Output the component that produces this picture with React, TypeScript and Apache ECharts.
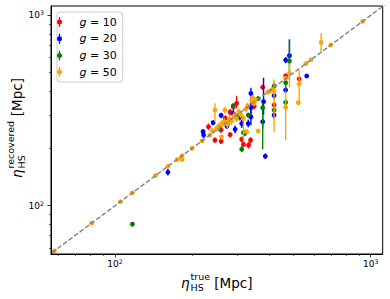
import React, { useEffect, useRef } from 'react';
import * as echarts from 'echarts';

// ---------- data ----------
const seriesNames = ['g = 10', 'g = 20', 'g = 30', 'g = 50'];
const seriesColors = ['#ff0000', '#0000ff', '#008000', '#ffa500'];

// [true, recovered, lower, upper]
const red10 = [
  [232, 260, 250, 270], [246, 221, 214, 228], [260, 218, 211, 225], [260, 250, 242, 258],
  [282, 236, 228, 244], [313, 223, 215, 231], [318, 210, 203, 217], [333, 208, 200, 216],
  [339, 221, 213, 229], [299, 345, 325, 378], [282, 310, 298, 322], [290, 330, 318, 342],
  [305, 300, 290, 310], [270, 288, 278, 298], [350, 333, 320, 346], [378, 419, 405, 433],
  [419, 338, 326, 350], [465, 481, 468, 494], [525, 464, 452, 476],
];
const blue20 = [
  [161, 150, 144, 156], [222, 235, 227, 243], [221, 245, 238, 252], [242, 273, 265, 281],
  [260, 298, 288, 308], [274, 262, 254, 270], [295, 252, 240, 264], [313, 270, 256, 284],
  [290, 305, 290, 318], [308, 293, 280, 306], [332, 270, 258, 284], [340, 389, 362, 417],
  [340, 327, 305, 350], [340, 293, 265, 320], [381, 352, 300, 470], [378, 276, 255, 297],
  [387, 182, 176, 188], [419, 379, 365, 393], [419, 299, 288, 310], [465, 582, 560, 605],
  [465, 405, 390, 420], [481, 614, 560, 748], [562, 480, 470, 490],
];
const green30 = [
  [117, 80, 78, 82], [255, 255, 248, 262], [276, 270, 262, 278], [290, 335, 325, 345],
  [300, 290, 280, 300], [313, 198, 191, 205], [318, 242, 234, 250], [322, 240, 232, 248],
  [332, 299, 290, 308], [363, 365, 355, 375], [378, 327, 198, 345], [419, 425, 405, 445],
  [419, 318, 308, 328], [465, 443, 400, 480], [465, 349, 338, 360], [481, 575, 457, 730],
];
const orange50 = [
  [58, 58, 57, 59], [81, 81, 80, 82], [105, 105, 104, 106], [117, 117, 116, 118],
  [144, 144, 143, 145], [161, 161, 160, 162], [175, 175, 174, 176], [183, 183, 181, 185],
  [183, 175, 173, 177], [200, 200, 198, 202], [219, 219, 217, 221], [235, 235, 232, 238],
  [246, 318, 275, 345], [269, 318, 305, 331], [261, 230, 225, 235], [240, 248, 240, 256],
  [250, 255, 245, 265], [255, 262, 250, 274], [262, 270, 258, 282], [268, 275, 262, 288],
  [275, 268, 255, 281], [280, 285, 270, 300], [285, 278, 265, 291], [292, 295, 280, 310],
  [298, 288, 275, 301], [305, 310, 295, 325], [310, 302, 290, 314], [318, 288, 217, 300],
  [325, 322, 310, 334], [327, 245, 238, 252], [330, 335, 322, 348], [342, 355, 345, 365],
  [345, 370, 360, 380], [350, 345, 335, 355], [355, 360, 350, 370], [363, 247, 240, 254],
  [396, 395, 388, 402], [404, 400, 393, 407], [412, 408, 400, 416], [419, 400, 245, 460],
  [465, 329, 221, 400], [465, 467, 455, 479], [481, 496, 420, 560], [525, 436, 350, 516],
  [521, 348, 340, 356], [558, 558, 553, 563], [584, 584, 578, 590], [640, 721, 641, 807],
  [698, 698, 692, 704], [930, 930, 922, 938],
];
const allSeries = [red10, blue20, green30, orange50];

const diagonal = [[40, 40], [1300, 1300]];
const majorTicks = [100, 1000];
const minorTicks = [60, 70, 80, 90, 200, 300, 400, 500, 600, 700, 800, 900];
const xRange = [56.2, 1114];
const yRange = [55.8, 1119];

const FONT = 'DejaVu Sans';
const ICON =
  'path://M1.85,0 L3.15,0 L3.15,2.7 L1.85,2.7 Z M1.85,7.3 L3.15,7.3 L3.15,10 L1.85,10 Z M2.5,2.5 A2.5,2.5 0 1 1 2.5,7.5 A2.5,2.5 0 1 1 2.5,2.5 Z';

function titleParts(sup: string, supWidth: number) {
  return [
    { type: 'text', x: 0, y: 0, style: { text: 'η', font: `italic 13.5px "${FONT}"`, fill: '#000', verticalAlign: 'middle', align: 'left' } },
    { type: 'text', x: 9.5, y: -6, style: { text: sup, font: `9.5px "${FONT}"`, fill: '#000', verticalAlign: 'middle', align: 'left' } },
    { type: 'text', x: 9.5, y: 5, style: { text: 'HS', font: `9.5px "${FONT}"`, fill: '#000', verticalAlign: 'middle', align: 'left' } },
    { type: 'text', x: 9.5 + supWidth + 4.3, y: 0, style: { text: '[Mpc]', font: `13.5px "${FONT}"`, fill: '#000', verticalAlign: 'middle', align: 'left' } },
  ];
}

const tickLabelRich = {
  b: { fontFamily: FONT, fontSize: 9, lineHeight: 11, color: '#000' },
  s: { fontFamily: FONT, fontSize: 6.3, lineHeight: 6, color: '#000', verticalAlign: 'top' },
};
const tickFormatter = (v: number) => `{b|10}{s|${Math.round(Math.log10(v))}}`;

export default function App() {
  const ref = useRef<HTMLDivElement>(null);
  useEffect(() => {
    if (!ref.current) return;
    const chart = echarts.init(ref.current, null, { renderer: 'svg' });

    const axisCommon = (range: number[]) => ({
      type: 'log',
      logBase: 10,
      min: range[0],
      max: range[1],
      splitLine: { show: false },
      minorTick: { show: false },
    });

    const customSeries = allSeries.map((data, i) => ({
      type: 'custom',
      name: seriesNames[i],
      data,
      clip: true,
      encode: { x: 0, y: [1, 2, 3] },
      itemStyle: { color: seriesColors[i] },
      z: 2 + i,
      renderItem: (params: any, api: any) => {
        const x = api.value(0);
        const y = api.value(1);
        const lo = api.value(2);
        const hi = api.value(3);
        const p = api.coord([x, y]);
        const a = api.coord([x, lo]);
        const b = api.coord([x, hi]);
        const color = seriesColors[i];
        return {
          type: 'group',
          children: [
            { type: 'line', shape: { x1: a[0], y1: a[1], x2: b[0], y2: b[1] }, style: { stroke: color, lineWidth: 1.4 } },
            { type: 'circle', shape: { cx: p[0], cy: p[1], r: 2.4 }, style: { fill: color } },
          ],
        };
      },
    }));

    const option: any = {
      animation: false,
      color: seriesColors,
      grid: {
        left: 51, right: 7.3, top: 6, bottom: 45,
        show: true, borderColor: '#000', borderWidth: 1, backgroundColor: 'transparent',
      },
      xAxis: [
        {
          ...axisCommon(xRange),
          position: 'bottom',
          axisLine: { show: true, lineStyle: { color: '#000', width: 1 } },
          axisTick: { show: true, length: 3.5, customValues: majorTicks, lineStyle: { color: '#000', width: 0.8 } },
          axisLabel: { show: true, margin: 4, customValues: majorTicks, formatter: tickFormatter, rich: tickLabelRich },
        },
        {
          ...axisCommon(xRange),
          position: 'bottom',
          axisLine: { show: false },
          axisTick: { show: true, length: 2, customValues: minorTicks, lineStyle: { color: '#000', width: 0.6 } },
          axisLabel: { show: false },
        },
      ],
      yAxis: [
        {
          ...axisCommon(yRange),
          position: 'left',
          axisLine: { show: true, lineStyle: { color: '#000', width: 1 } },
          axisTick: { show: true, length: 3.5, customValues: majorTicks, lineStyle: { color: '#000', width: 0.8 } },
          axisLabel: { show: true, margin: 7, customValues: majorTicks, formatter: tickFormatter, rich: tickLabelRich },
        },
        {
          ...axisCommon(yRange),
          position: 'left',
          axisLine: { show: false },
          axisTick: { show: true, length: 2, customValues: minorTicks, lineStyle: { color: '#000', width: 0.6 } },
          axisLabel: { show: false },
        },
      ],
      legend: {
        orient: 'vertical',
        left: 57,
        top: 12,
        itemWidth: 30,
        itemHeight: 10,
        itemGap: 4.7,
        padding: [4, 6, 4, 0],
        borderColor: '#cccccc',
        borderWidth: 1,
        borderRadius: 3,
        backgroundColor: 'rgba(255,255,255,0.8)',
        selectedMode: false,
        data: seriesNames.map((n) => ({ name: n, icon: ICON })),
        formatter: (name: string) => `{i|g}${name.slice(1)}`,
        textStyle: {
          fontFamily: FONT, fontSize: 11, color: '#000', lineHeight: 12,
          rich: { i: { fontFamily: FONT, fontSize: 11, fontStyle: 'italic', color: '#000', lineHeight: 12 } },
        },
      },
      series: [
        ...customSeries,
        {
          type: 'line',
          data: diagonal,
          symbol: 'none',
          clip: true,
          silent: true,
          z: 10,
          lineStyle: { color: '#808080', width: 1.4, type: [4.8, 2.1] },
        },
      ],
      graphic: [
        { type: 'group', x: 181, y: 282.5, children: titleParts('true', 19.5) },
        { type: 'group', x: 16.5, y: 178, rotation: Math.PI / 2, children: titleParts('recovered', 48) },
      ],
    };
    chart.setOption(option);
    return () => chart.dispose();
  }, []);
  return <div ref={ref} style={{ position: 'absolute', left: 0, top: 0, width: 390, height: 299 }} />;
}
